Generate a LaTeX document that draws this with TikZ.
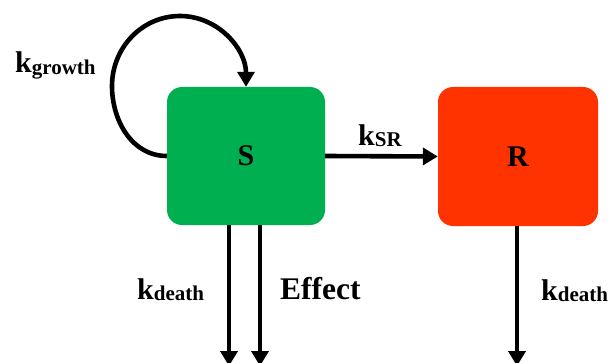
\documentclass[tikz,border=0pt]{standalone}
\usepackage{fontspec}
\setmainfont{Liberation Serif}
\usetikzlibrary{arrows.meta}
\definecolor{sgreen}{HTML}{00B050}
\definecolor{rred}{HTML}{FF3300}
\newcommand{\rate}[1]{\fontsize{30}{30}\selectfont\bfseries k\raisebox{-1.5pt}{\fontsize{21}{21}\selectfont #1}}
\begin{document}
\begin{tikzpicture}[x=1pt,y=1pt,
  compartment/.style={rounded corners=15pt, inner sep=0pt, font=\fontsize{30}{30}\selectfont\bfseries},
  flow/.style={line width=4.6pt, -{Triangle[length=15pt,width=17pt]}},
  ratelabel/.style={anchor=base west, inner sep=0pt}]
  \useasboundingbox (0,0) rectangle (609,362);
  % compartments
  \node[compartment, fill=sgreen, minimum width=158pt, minimum height=138pt] (S) at (246,206) {S};
  \node[compartment, fill=rred, minimum width=160pt, minimum height=139pt] (R) at (518,205.5) {R};
  % free ends of the outflows
  \coordinate (s1) at (229,-4);
  \coordinate (s2) at (260,-4);
  \coordinate (r1) at (517,-4);
  % flows
  \draw[flow] (S.west) to[out=180,in=270] (112,276) to[out=90,in=180] (180,346) to[out=0,in=90] (S.north);
  \draw[flow] (S.east) -- (R.west);
  \draw[flow] ([xshift=-17pt]S.south) -- (s1);
  \draw[flow] ([xshift=14pt]S.south) -- (s2);
  \draw[flow] ([xshift=-1pt]R.south) -- (r1);
  % labels
  \node[ratelabel] (lg) at (15,289) {\rate{growth}};
  \node[ratelabel] (lsr) at (358,217) {\rate{SR}};
  \node[ratelabel] (ld1) at (137,63) {\rate{death}};
  \node[ratelabel, font=\fontsize{31.5}{31.5}\selectfont\bfseries] (leff) at (280,63) {Effect};
  \node[ratelabel] (ld2) at (541,62) {\rate{death}};
\end{tikzpicture}
\end{document}
